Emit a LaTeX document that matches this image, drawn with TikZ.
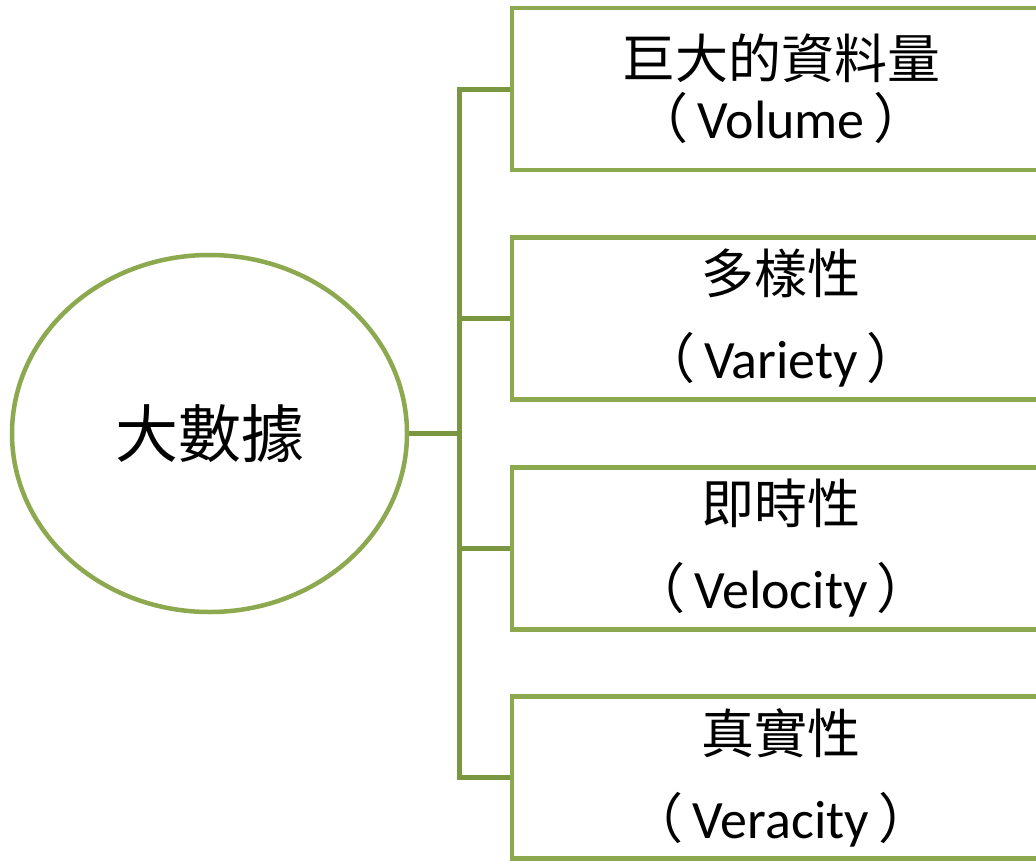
\documentclass[tikz,border=0pt]{standalone}
\usepackage{fontspec}
\setmainfont{Carlito}
\newfontfamily\cjk{Noto Sans CJK TC}
\usetikzlibrary{shapes.geometric}
\definecolor{shapegreen}{HTML}{8CA94F}
\definecolor{linkgreen}{HTML}{7A9640}
\tikzset{
  hub/.style={ellipse, draw=shapegreen, line width=4.5pt, fill=white,
    minimum width=395pt, minimum height=357pt, inner sep=0pt,
    font=\cjk\fontsize{63}{70}\selectfont},
  itembox/.style={rectangle, draw=shapegreen, line width=4.5pt, fill=white,
    minimum width=538pt, minimum height=162pt, inner sep=0pt, align=center},
  link/.style={draw=linkgreen, line width=5pt},
}
\newcommand{\zh}[1]{{\cjk\fontsize{53}{60}\selectfont #1}}
\newcommand{\lp}{{\cjk （}\,}
\newcommand{\rp}{\,{\cjk ）}}
\begin{document}
\begin{tikzpicture}[x=1pt, y=-1pt]
\useasboundingbox (0,0) rectangle (1036,860);
\clip (0,0) rectangle (1036,860);
\fill[white] (0,0) rectangle (1036,860);
\node[hub] (big) at (209.5,433.5) {大數據};
\node[itembox, font=\fontsize{54}{60}\selectfont] (b1) at (781,89)
  {\zh{巨大的資料量}\\\lp Volume\rp};
\node[itembox, font=\fontsize{54}{85}\selectfont] (b2) at (781,318.5)
  {\zh{多樣性}\\\lp Variety\rp};
\node[itembox, font=\fontsize{54}{85}\selectfont] (b3) at (781,548.5)
  {\zh{即時性}\\\lp Velocity\rp};
\node[itembox, font=\fontsize{54}{85}\selectfont] (b4) at (781,777.5)
  {\zh{真實性}\\\lp Veracity\rp};
\coordinate (j) at (459,433.5);
\path[link] (big.east) -- (j);
\foreach \b in {b1,b2,b3,b4}
  \path[link] (j) |- (\b.west);
\end{tikzpicture}
\end{document}
